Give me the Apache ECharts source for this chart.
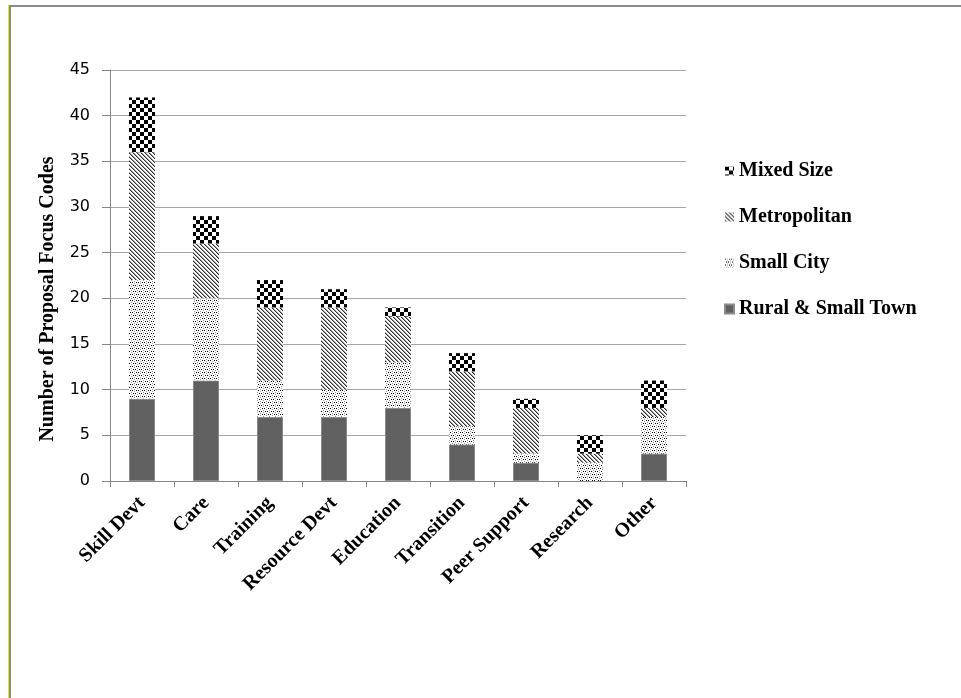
<!DOCTYPE html>
<html>
<head>
<meta charset="utf-8">
<script src="https://cdn.jsdelivr.net/npm/echarts@6/dist/echarts.min.js"></script>
<style>
    html, body {margin: 0; padding: 0; background: #fff;}
    #chart {width: 961px; height: 698px;}
</style>
</head>
<body>
<div id="chart"></div>
<script>
const categories = ['Skill Devt', 'Care', 'Training', 'Resource Devt', 'Education', 'Transition', 'Peer Support', 'Research', 'Other'];
const ruralSmallTown = [9, 11, 7, 7, 8, 4, 2, 0, 3];
const smallCity = [13, 9, 4, 3, 5, 2, 1, 2, 4];
const metropolitan = [14, 6, 8, 9, 5, 6, 5, 1, 1];
const mixedSize = [6, 3, 3, 2, 1, 2, 1, 2, 3];
const yTicks = [0, 5, 10, 15, 20, 25, 30, 35, 40, 45];

const serif = '"Liberation Serif", "DejaVu Serif", serif';

// little canvases used as fill patterns (excel style hatching)
function makePattern(size, draw){
    let c = document.createElement('canvas');
    c.width = size;
    c.height = size;
    let ctx = c.getContext('2d');
    ctx.fillStyle = '#fff';
    ctx.fillRect(0, 0, size, size);
    draw(ctx);
    return {image: c, repeat: 'repeat'};
}

const checkFill = makePattern(8, ctx=>{
    ctx.fillStyle = '#000';
    ctx.fillRect(0, 0, 4, 4);
    ctx.fillRect(4, 4, 4, 4);
});

const diagFill = makePattern(4, ctx=>{
    ctx.fillStyle = '#333';
    for(let i = 0; i < 4; i++){
        ctx.fillRect(i, i, 1, 1);
    }
    ctx.fillStyle = '#a0a0a0';
    for(let i = 0; i < 4; i++){
        ctx.fillRect((i + 1) % 4, i, 1, 1);
    }
});

const dotFill = makePattern(6, ctx=>{
    ctx.fillStyle = '#000';
    ctx.fillRect(0, 0, 1, 1);
    ctx.fillRect(3, 3, 1, 1);
    ctx.fillRect(4, 0, 1, 1);
    ctx.fillRect(1, 3, 1, 1);
    ctx.fillStyle = '#9a9a9a';
    ctx.fillRect(2, 1, 1, 1);
    ctx.fillRect(5, 4, 1, 1);
    ctx.fillRect(2, 5, 1, 1);
    ctx.fillRect(5, 2, 1, 1);
});

const ruralFill = '#606060';

let myChart = echarts.init(document.getElementById('chart'), null, {renderer: 'canvas'});

let barSeries = (name, data, fill, border)=>({
    name: name,
    type: 'bar',
    stack: 'all',
    barWidth: 26,
    data: data,
    itemStyle: {color: fill, borderColor: border, borderWidth: border ? 1 : 0},
    emphasis: {disabled: true}
});

let option = {
    animation: false,
    backgroundColor: '#fff',
    grid: {
        left: 110,
        right: 275,
        top: 70,
        bottom: 217
    },
    legend: {
        orient: 'vertical',
        left: 719,
        top: 156,
        itemWidth: 9,
        itemHeight: 9,
        itemGap: 26,
        icon: 'rect',
        data: ['Mixed Size', 'Metropolitan', 'Small City', 'Rural & Small Town'],
        textStyle: {
            fontFamily: serif,
            fontWeight: 'bold',
            fontSize: 20,
            color: '#000'
        }
    },
    xAxis: {
        type: 'category',
        data: categories,
        axisLine: {lineStyle: {color: '#868686', width: 1}},
        axisTick: {show: true, length: 6, interval: 0, lineStyle: {color: '#868686'}},
        axisLabel: {
            interval: 0,
            rotate: 45,
            margin: 19,
            fontFamily: serif,
            fontWeight: 'bold',
            fontSize: 20,
            color: '#000'
        }
    },
    yAxis: {
        type: 'value',
        min: yTicks[0],
        max: yTicks[yTicks.length - 1],
        interval: 5,
        axisLine: {show: true, lineStyle: {color: '#868686', width: 1}},
        axisTick: {show: true, length: 8, lineStyle: {color: '#868686'}},
        splitLine: {lineStyle: {color: '#a6a6a6', width: 1}},
        axisLabel: {
            margin: 20,
            fontFamily: '"DejaVu Sans", sans-serif',
            fontSize: 16,
            color: '#000'
        }
    },
    graphic: [
        {type: 'rect', shape: {x: 9, y: 5, width: 952, height: 2}, style: {fill: '#8c8c8c'}},
        {type: 'rect', shape: {x: 9, y: 5, width: 2, height: 693}, style: {fill: '#8c8c8c'}},
        {type: 'rect', shape: {x: 8, y: 5, width: 1, height: 693}, style: {fill: '#e8e800'}},
        {
            type: 'text',
            x: 48,
            y: 299,
            rotation: Math.PI / 2,
            style: {
                text: 'Number of Proposal Focus Codes',
                fontFamily: serif,
                fontWeight: 'bold',
                fontSize: 20,
                fill: '#000',
                textAlign: 'center',
                textVerticalAlign: 'middle'
            }
        }
    ],
    series: [
        barSeries('Rural & Small Town', ruralSmallTown, ruralFill, '#8a8a8a'),
        barSeries('Small City', smallCity, dotFill),
        barSeries('Metropolitan', metropolitan, diagFill),
        barSeries('Mixed Size', mixedSize, checkFill)
    ]
};

myChart.setOption(option);
</script>
</body>
</html>
